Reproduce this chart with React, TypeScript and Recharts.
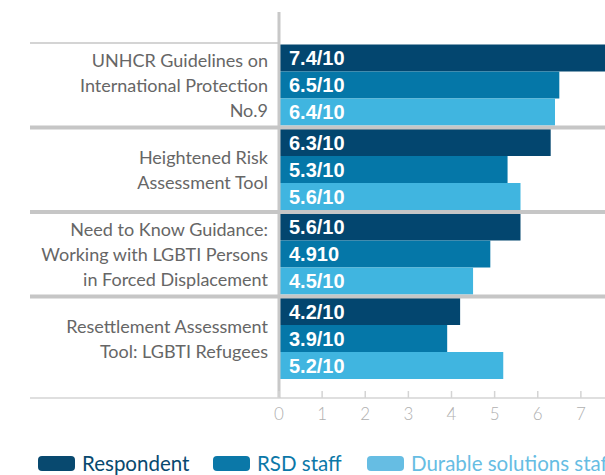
import React from 'react';
import { BarChart, Bar, XAxis, YAxis, LabelList } from 'recharts';

const categories = [
  'UNHCR Guidelines on International Protection No.9',
  'Heightened Risk Assessment Tool',
  'Need to Know Guidance: Working with LGBTI Persons in Forced Displacement',
  'Resettlement Assessment Tool: LGBTI Refugees',
];
const categoryLines = [
  ['UNHCR Guidelines on', 'International Protection', 'No.9'],
  ['Heightened Risk', 'Assessment Tool'],
  ['Need to Know Guidance:', 'Working with LGBTI Persons', 'in Forced Displacement'],
  ['Resettlement Assessment', 'Tool: LGBTI Refugees'],
];
const seriesNames = ['Respondent', 'RSD staff', 'Durable solutions staff'];
const respondent = [7.8, 6.3, 5.6, 4.2];
const rsdStaff = [6.5, 5.3, 4.9, 3.9];
const durableStaff = [6.4, 5.6, 4.5, 5.2];
const respondentLabels = ['7.4/10', '6.3/10', '5.6/10', '4.2/10'];
const rsdLabels = ['6.5/10', '5.3/10', '4.910', '3.9/10'];
const durableLabels = ['6.4/10', '5.6/10', '4.5/10', '5.2/10'];
const xTicks = [0, 1, 2, 3, 4, 5, 6, 7];

const COLORS = ['#03466f', '#0577a8', '#40b5e0'];
const LEGEND_COLORS = ['#08496f', '#0b78a8', '#66bde3'];

const data = categories.map((name, i) => ({
  name,
  resp: respondent[i],
  rsd: rsdStaff[i],
  dur: durableStaff[i],
  respLabel: respondentLabels[i],
  rsdLabel: rsdLabels[i],
  durLabel: durableLabels[i],
}));

const W = 640;
const H = 440;
const MARGIN = { top: 12, right: 16, bottom: 12, left: 0 };
const Y_AXIS_W = 279;
const X_AXIS_H = 30;
const PAD = { top: 31, bottom: 17 };
const PLOT_H = H - MARGIN.top - MARGIN.bottom - X_AXIS_H;
const BAND = (PLOT_H - PAD.top - PAD.bottom) / categories.length;
const LEFT_EDGE = 30;
const GRID = '#c6c6c6';
const FONT = 'Lato, "Open Sans", sans-serif';

const YTick = (props: any) => {
  const { x, y, payload } = props;
  const idx = categories.indexOf(payload.value);
  const lines = categoryLines[idx] || [];
  const lh = 25;
  const start = y - ((lines.length - 1) * lh) / 2;
  const top = y - BAND / 2;
  return (
    <g>
      {idx === 0 ? (
        <line x1={LEFT_EDGE} x2={x} y1={top} y2={top} stroke={GRID} strokeWidth={1.5} />
      ) : (
        <line x1={LEFT_EDGE} x2={W} y1={top} y2={top} stroke={GRID} strokeWidth={4} />
      )}
      <text textAnchor="end" fontFamily={FONT} fontSize={18} fill="#666">
        {lines.map((l, i) => (
          <tspan key={i} x={x - 11} y={start + i * lh} dy="0.36em">
            {l}
          </tspan>
        ))}
      </text>
    </g>
  );
};

const XTick = (props: any) => {
  const { x, y, payload } = props;
  return (
    <g>
      {payload.value === 0 && (
        <line x1={LEFT_EDGE} x2={x} y1={y} y2={y} stroke="#d4d4d4" strokeWidth={1.5} />
      )}
      <line x1={x} x2={x} y1={y} y2={y - 7} stroke="#d4d4d4" strokeWidth={1.5} />
      <text x={x} y={y + 16} dy="0.35em" textAnchor="middle" fontFamily={FONT} fontWeight={300} fontSize={17} fill="#b0b0b0">
        {payload.value}
      </text>
    </g>
  );
};

const labelProps = {
  position: 'insideLeft' as const,
  offset: 10,
  fill: '#ffffff',
  fontSize: 20,
  fontWeight: 'bold',
  fontFamily: '"Liberation Sans", Arial, sans-serif',
};

const legendX = [38, 213, 367];

export default function App() {
  return (
    <div style={{ position: 'fixed', left: 0, top: 0, width: 605, height: 475, overflow: 'hidden', background: '#fff' }}>
      <div style={{ position: 'absolute', left: 0, top: 0 }}>
        <BarChart
          width={W}
          height={H}
          data={data}
          layout="vertical"
          margin={MARGIN}
          barCategoryGap={1.5}
          barGap={0}
        >
          <XAxis
            type="number"
            domain={[0, 8]}
            ticks={xTicks}
            height={X_AXIS_H}
            axisLine={{ stroke: '#d4d4d4', strokeWidth: 1.5 }}
            tickLine={false}
            tickSize={0}
            tickMargin={0}
            tick={<XTick />}
            interval={0}
          />
          <YAxis
            type="category"
            dataKey="name"
            width={Y_AXIS_W}
            padding={PAD}
            axisLine={{ stroke: '#c8c8c8', strokeWidth: 3 }}
            tickLine={false}
            tickSize={0}
            tickMargin={0}
            tick={<YTick />}
            interval={0}
          />
          <Bar dataKey="resp" name={seriesNames[0]} fill={COLORS[0]} isAnimationActive={false}>
            <LabelList dataKey="respLabel" {...labelProps} />
          </Bar>
          <Bar dataKey="rsd" name={seriesNames[1]} fill={COLORS[1]} isAnimationActive={false}>
            <LabelList dataKey="rsdLabel" {...labelProps} />
          </Bar>
          <Bar dataKey="dur" name={seriesNames[2]} fill={COLORS[2]} isAnimationActive={false}>
            <LabelList dataKey="durLabel" {...labelProps} />
          </Bar>
        </BarChart>
      </div>
      <svg width={605} height={475} style={{ position: 'absolute', left: 0, top: 0, pointerEvents: 'none' }}>
        {seriesNames.map((n, i) => (
          <g key={n}>
            <rect x={legendX[i]} y={456} width={37} height={15} rx={4} fill={LEGEND_COLORS[i]} />
            <text x={legendX[i] + 44} y={471} fontFamily={FONT} fontSize={20.5} fill={LEGEND_COLORS[i]}>
              {n}
            </text>
          </g>
        ))}
      </svg>
    </div>
  );
}
